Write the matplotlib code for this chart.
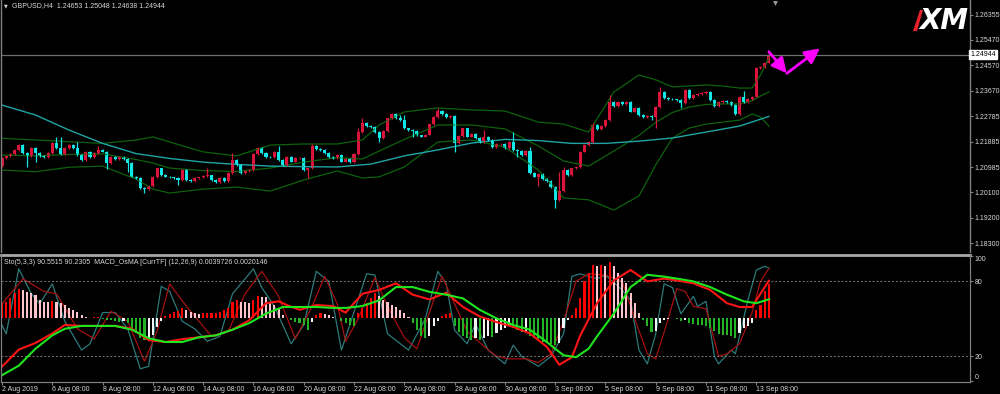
import matplotlib
matplotlib.use("Agg")
import matplotlib.pyplot as plt
import numpy as np
from matplotlib.patches import Polygon

plt.rcParams['font.family'] = ['Liberation Sans', 'DejaVu Sans']

# ---------------- data (GBPUSD H4, 2 Aug 08:00 .. 13 Sep 20:00) ----------------
first_open = 1.2102
closes = [
    1.2131, 1.2136, 1.2145, 1.2159, 1.2176, 1.2148, 1.2136, 1.2166, 1.2148, 1.2138,
    1.2134, 1.2148, 1.2182, 1.2166, 1.2145, 1.2166, 1.2176, 1.2166, 1.2141, 1.2124,
    1.2152, 1.2135, 1.2149, 1.2159, 1.2153, 1.2113, 1.2135, 1.2127, 1.2135, 1.2128,
    1.2112, 1.2065, 1.2059, 1.2025, 1.2021, 1.2033, 1.2064, 1.2094, 1.2071, 1.2065,
    1.2062, 1.2059, 1.2053, 1.2088, 1.2053, 1.2050, 1.2059, 1.2062, 1.2068, 1.2069,
    1.2053, 1.2046, 1.2059, 1.2050, 1.2077, 1.2124, 1.2106, 1.2078, 1.2085, 1.2088,
    1.2144, 1.2167, 1.2147, 1.2135, 1.2134, 1.2153, 1.2124, 1.2106, 1.2135, 1.2118,
    1.2130, 1.2132, 1.2088, 1.2094, 1.2174, 1.2162, 1.2159, 1.2147, 1.2135, 1.2130,
    1.2141, 1.2118, 1.2127, 1.2115, 1.2144, 1.2223, 1.2253, 1.2244, 1.2240, 1.2223,
    1.2200, 1.2226, 1.2270, 1.2285, 1.2270, 1.2264, 1.2235, 1.2229, 1.2226, 1.2210,
    1.2206, 1.2213, 1.2249, 1.2276, 1.2296, 1.2285, 1.2276, 1.2280, 1.2182, 1.2209,
    1.2235, 1.2206, 1.2214, 1.2200, 1.2188, 1.2206, 1.2194, 1.2170, 1.2179, 1.2180,
    1.2165, 1.2188, 1.2159, 1.2155, 1.2141, 1.2155, 1.2077, 1.2065, 1.2073, 1.2057,
    1.2050, 1.2029, 1.1983, 1.2014, 1.2088, 1.2071, 1.2094, 1.2099, 1.2153, 1.2176,
    1.2188, 1.2247, 1.2232, 1.2243, 1.2264, 1.2329, 1.2314, 1.2329, 1.2320, 1.2329,
    1.2294, 1.2306, 1.2282, 1.2276, 1.2280, 1.2275, 1.2311, 1.2362, 1.2343, 1.2338,
    1.2337, 1.2335, 1.2323, 1.2370, 1.2341, 1.2353, 1.2355, 1.2359, 1.2364, 1.2335,
    1.2315, 1.2327, 1.2331, 1.2327, 1.2317, 1.2285, 1.2347, 1.2329, 1.2338, 1.2347,
    1.2447, 1.2452, 1.24653, 1.24944,
]
# wick lengths beyond the body, in pips
up_wick = [
    3, 3, 3, 3, 3, 3, 3, 3, 3, 3,
    3, 3, 6, 24, 38, 3, 3, 3, 22, 3,
    3, 3, 3, 14, 3, 3, 3, 3, 3, 3,
    3, 3, 3, 3, 3, 3, 3, 3, 3, 3,
    3, 3, 3, 3, 3, 3, 3, 3, 3, 27,
    3, 3, 3, 3, 3, 24, 3, 3, 3, 3,
    3, 3, 3, 3, 3, 3, 20, 3, 3, 3,
    3, 3, 3, 3, 5, 3, 3, 3, 3, 3,
    3, 3, 3, 3, 3, 13, 18, 3, 3, 3,
    3, 3, 3, 3, 3, 12, 18, 3, 3, 3,
    3, 3, 3, 3, 12, 3, 3, 3, 3, 3,
    3, 3, 3, 3, 3, 24, 3, 3, 3, 3,
    3, 3, 35, 3, 3, 3, 15, 3, 3, 3,
    3, 3, 3, 66, 12, 3, 3, 3, 3, 3,
    3, 6, 3, 3, 3, 24, 3, 3, 3, 3,
    3, 3, 3, 3, 3, 3, 3, 20, 3, 3,
    3, 3, 3, 3, 3, 3, 3, 3, 3, 3,
    3, 3, 3, 3, 3, 3, 3, 18, 3, 3,
    3, 3, 3, 10.4,
]
dn_wick = [
    3, 3, 3, 3, 3, 3, 38, 3, 30, 3,
    3, 3, 3, 3, 3, 3, 3, 3, 3, 3,
    3, 3, 3, 3, 3, 22, 3, 3, 3, 3,
    30, 3, 3, 3, 13, 3, 3, 3, 3, 3,
    3, 3, 18, 3, 3, 3, 3, 3, 3, 3,
    3, 3, 3, 3, 3, 3, 3, 3, 3, 3,
    3, 3, 3, 3, 3, 3, 3, 3, 3, 3,
    3, 3, 3, 29, 3, 3, 3, 3, 3, 3,
    3, 3, 3, 3, 3, 3, 3, 3, 3, 3,
    12, 3, 3, 3, 3, 3, 3, 3, 20, 3,
    3, 3, 3, 3, 3, 3, 3, 3, 32, 3,
    3, 3, 3, 3, 3, 3, 3, 3, 3, 3,
    3, 3, 3, 20, 3, 3, 3, 3, 32, 3,
    3, 3, 29, 3, 3, 3, 3, 3, 3, 3,
    3, 3, 3, 3, 3, 3, 3, 3, 3, 3,
    3, 3, 3, 3, 3, 11, 40, 3, 3, 3,
    3, 3, 18, 3, 3, 3, 3, 3, 3, 3,
    3, 3, 3, 3, 3, 3, 3, 3, 3, 3,
    3, 3, 3, 1.5,
]

# moving average (cyan) read at sample bars
ma_bars = [0, 8, 16, 24, 32, 40, 48, 56, 64, 72, 80, 88, 96, 104, 112, 120, 128, 136, 144, 152, 160, 168, 176, 183]
ma_vals = [1.2317, 1.2282, 1.2229, 1.2182, 1.2146, 1.2129, 1.2116, 1.2108, 1.2102, 1.2100, 1.2099, 1.2109,
           1.2138, 1.2159, 1.2183, 1.2196, 1.2192, 1.2182, 1.2182, 1.2190, 1.2201, 1.2222, 1.2243, 1.2277]

# Bollinger bands (dark green)
bb_bars = [0, 8, 16, 24, 32, 36, 40, 48, 56, 64, 72, 80, 86, 90, 96, 104, 112, 120, 128, 134, 140, 146,
           152, 156, 160, 164, 168, 172, 176, 179, 181, 183]
bb_upper = [1.2200, 1.2194, 1.2188, 1.2182, 1.2194, 1.2205, 1.2187, 1.2152, 1.2138, 1.2176, 1.2180, 1.2180,
            1.2194, 1.2247, 1.2293, 1.2307, 1.2300, 1.2296, 1.2257, 1.2250, 1.2222, 1.2363,
            1.2423, 1.2406, 1.2381, 1.2384, 1.2388, 1.2384, 1.2377, 1.2377, 1.2423, 1.2483]
bb_middle = [1.2141, 1.2138, 1.2143, 1.2145, 1.2125, 1.2113, 1.2095, 1.2086, 1.2083, 1.2095, 1.2116, 1.2132,
             1.2127, 1.2155, 1.2196, 1.2247, 1.2247, 1.2233, 1.2173, 1.2120, 1.2102, 1.2155,
             1.2210, 1.2256, 1.2291, 1.2310, 1.2319, 1.2321, 1.2321, 1.2332, 1.2349, 1.2363]
bb_lower = [1.2088, 1.2082, 1.2098, 1.2102, 1.2056, 1.2021, 1.2007, 1.2021, 1.2028, 1.2014, 1.2053, 1.2085,
            1.2060, 1.2064, 1.2099, 1.2187, 1.2194, 1.2169, 1.2088, 1.1990, 1.1983, 1.1947,
            1.1997, 1.2106, 1.2201, 1.2236, 1.2250, 1.2257, 1.2264, 1.2286, 1.2275, 1.2243]

price_ticks = [1.26355, 1.25470, 1.24570, 1.23670, 1.22785, 1.21885, 1.20985, 1.20100, 1.19200, 1.18300]

# Stochastic (5,3,3): %K teal, %D dark red, turning points
k_bars = [0, 1, 4, 7, 9, 12, 15, 19, 21, 24, 27, 30, 33, 35, 38, 40, 43, 46, 49, 52, 55, 60, 62, 65, 69, 72,
          75, 78, 81, 87, 89, 92, 97, 101, 104, 106, 108, 111, 113, 116, 120, 122, 124, 128, 131, 134, 136,
          138, 142, 144, 148, 150, 152, 154, 156, 158, 160, 162, 165, 166, 168, 170, 171, 174, 175, 178, 180,
          182, 183]
k_vals = [45, 38, 90, 70, 62, 78, 48, 25, 30, 55, 55, 42, 10, 12, 76, 72, 48, 42, 32, 36, 70, 90, 75, 60, 30, 45,
          88, 80, 25, 86, 85, 38, 25, 50, 88, 78, 41, 30, 46, 25, 14, 29, 20, 12, 20, 38, 84,
          86, 82, 85, 73, 65, 25, 14, 38, 78, 75, 54, 68, 60, 64, 20, 14, 25, 22, 65, 89,
          92, 90.55]
d_bars = [0, 2, 5, 10, 13, 18, 22, 26, 30, 34, 37, 40, 44, 50, 54, 58, 62, 66, 70, 74, 77, 80, 82, 85, 89, 92,
          96, 99, 102, 105, 108, 111, 115, 118, 121, 125, 128, 131, 134, 137, 140, 144, 148, 151, 154, 156, 159,
          161, 163, 165, 168, 171, 173, 176, 179, 181, 183]
d_vals = [62, 70, 82, 72, 70, 42, 34, 56, 48, 16, 40, 78, 60, 36, 40, 70, 88, 68, 34, 60, 84, 62, 32, 50, 83, 60,
          35, 26, 55, 84, 62, 40, 28, 20, 18, 18, 15, 22, 48, 80, 86, 85, 80, 50, 22, 18, 50,
          74, 72, 60, 58, 20, 22, 30, 55, 80, 90.23]

# MACD_OsMA (12,26,9), in pips
macd_bars = [0, 4, 8, 12, 15, 19, 23, 27, 31, 35, 39, 43, 47, 51, 55, 59, 63, 66, 68, 71, 75, 79, 82, 86, 90,
             94, 98, 102, 106, 110, 114, 118, 122, 126, 130, 133, 136, 138, 142, 146, 150, 154, 158, 161, 165,
             169, 173, 176, 179, 181, 183]
macd_main = [-51, -33, -26, -16, -7, -8, -8, -8, -11, -23, -25, -22, -20, -18, -12, -2, 16, 18, 14, 9, 14, 13, 6,
             26, 30, 37, 25, 20, 27, 12, 2, -4, -9, -16, -30, -49, -41, -18, 16, 40, 51, 39, 42, 40, 37,
             30, 16, 12, 12, 26, 39.73]
sig_bars = [0, 4, 8, 12, 15, 19, 23, 27, 31, 35, 39, 43, 47, 51, 55, 59, 63, 67, 71, 75, 79, 82, 86, 90, 94,
            98, 102, 106, 110, 114, 118, 122, 126, 130, 134, 137, 140, 142, 146, 150, 154, 158, 161, 165, 169,
            173, 177, 180, 183]
sig_vals = [-60, -50, -32, -18, -11, -8, -8, -8, -12, -21, -25, -25, -20, -18, -12, -5, 5, 12, 12, 12, 11, 11, 13,
            19, 33, 33, 28, 25, 21, 9, 0, -7, -12, -25, -39, -41, -32, -19, 5, 33, 46, 44, 42, 39, 33,
            25, 18, 16, 20.15]
osma = [
    16, 17.7, 21, 26.5, 30.7, 30, 28.3, 26.5, 24.7, 19.4,
    17.7, 17.5, 18.8, 17.7, 15.9, 14.1, 10.6, 8.8, 7.1, 3.5,
    1.8, 0.8, 1.0, 1.2, -1.1, -1.6, -2.1, -3.2, -3.7, -3.2,
    -5.3, -10.6, -15.9, -21.2, -23.3, -23.0, -18, -9.5, -3.2, 2.1,
    4.2, 6.4, 8.0, 10.6, 8.5, 7.1, 5.3, 5.0, 5.3, 5.8,
    5.9, 6.0, 6.9, 8.5, 10.6, 17, 19, 17.7, 17.5, 15.9,
    19, 23.3, 23, 22.8, 17.7, 14.1, 10.6, 3.5, 0.5, -2.1,
    -3.5, -5.3, -7.1, -12.7, -3.5, 3.5, 5.3, 5.1, 3.5, 1.8,
    0.8, -3.2, -5.3, -7.4, -8.5, 5.3, 10.6, 15.9, 21.2, 26.5,
    23.3, 19, 17, 13.8, 11.7, 8.5, 5.3, 1.1, -5.3, -12.7,
    -19, -21.2, -19, -8.5, -3.2, 2.1, 4.2, 5.3, -8.5, -14.8,
    -19, -21.2, -23.3, -21.2, -23.3, -21.2, -19, -19.5, -15.9, -12.7,
    -10.6, -8.5, -10.6, -12.7, -14.8, -14, -19, -21.2, -23.3, -25.4,
    -26.5, -27.6, -28.6, -26.5, -10.6, -2.1, 3.2, 10.6, 21.2, 39.2,
    47.7, 56.2, 55.1, 56.0, 55.1, 59.4, 55.1, 47.7, 42.4, 37.1,
    26.5, 15.9, 5.3, -2.1, -8.5, -14.8, -13.8, -5.3, -2.1, -1.1,
    0.5, -0.5, -3.2, -2.1, -5.3, -6.4, -7.1, -7.4, -7.6, -10.6,
    -13.8, -17, -17.2, -17.4, -19, -21.2, -15.9, -10.6, -8.5, -5.3,
    8.5, 13.8, 28.6, 36,
]

date_labels = ["2 Aug 2019", "6 Aug 08:00", "8 Aug 08:00", "12 Aug 08:00", "14 Aug 08:00", "16 Aug 08:00",
               "20 Aug 08:00", "22 Aug 08:00", "26 Aug 08:00", "28 Aug 08:00", "30 Aug 08:00", "3 Sep 08:00",
               "5 Sep 08:00", "9 Sep 08:00", "11 Sep 08:00", "13 Sep 08:00"]

# magenta forecast arrows (bar, price)
arrow_pts = [(183, 1.2505), (187.3, 1.2429), (195.2, 1.2517)]

# ---------------- styles ----------------
BG = 'black'
UP = '#dc143c'
DN = '#12e6e6'
GRID = '#808080'
TXT = '#d8d8d8'
FS = 5.0

fig = plt.figure(figsize=(10, 3.94), dpi=100, facecolor=BG)
ax = fig.add_axes([0.001, 142 / 394, 0.969, 252 / 394], facecolor=BG)
ax2 = fig.add_axes([0.001, 12.3 / 394, 0.969, 127 / 394], facecolor=BG, sharex=ax)
ax3 = ax2.twinx()

n = len(closes)
idx = np.arange(n)
c = np.array(closes)
o = np.concatenate([[first_open], c[:-1]])
hi = np.maximum(o, c) + np.array(up_wick) * 0.0001
lo = np.minimum(o, c) - np.array(dn_wick) * 0.0001
cols = np.where(c >= o, UP, DN)

# ---- main chart ----
ax.plot(bb_bars, bb_upper, color='#0d620d', lw=0.9)
ax.plot(bb_bars, bb_middle, color='#0d620d', lw=0.9)
ax.plot(bb_bars, bb_lower, color='#0d620d', lw=0.9)
ax.plot(ma_bars, ma_vals, color='#1fa5a5', lw=1.0)
ax.vlines(idx, lo, hi, colors=cols, lw=0.9)
ax.bar(idx, np.maximum(np.abs(c - o), 0.00009), bottom=np.minimum(o, c), width=0.72, color=cols, lw=0)
ax.axhline(closes[-1], color='#6c6c74', lw=0.9)

for (x0, y0), (x1, y1) in zip(arrow_pts[:-1], arrow_pts[1:]):
    ax.annotate('', xy=(x1, y1), xytext=(x0, y0),
                arrowprops=dict(arrowstyle='-|>,head_length=0.9,head_width=0.45', color='#ff00ff',
                                lw=2.0, mutation_scale=10, shrinkA=0, shrinkB=0))

# chart shift marker at the top
ax.plot([184.5], [0.988], marker='v', ms=3.5, color='#9a9a9a', mec='none',
        transform=ax.get_xaxis_transform(), clip_on=False)

ax.set_xlim(-0.24, 231.0)
ax.set_ylim(1.17993, 1.26873)
ax.yaxis.tick_right()
ax.set_yticks(price_ticks)
ax.set_yticklabels(['%.5f' % p for p in price_ticks])
ax.tick_params(axis='y', length=2.5, width=0.8, pad=0.8, labelsize=FS, colors=GRID, labelcolor=TXT)
ax.tick_params(axis='x', bottom=False, labelbottom=False)
for s in ['top', 'bottom']:
    ax.spines[s].set_visible(False)
for s in ['left', 'right']:
    ax.spines[s].set_color(GRID)
    ax.spines[s].set_linewidth(1)
ax.text(1.0005, closes[-1], '%.5f' % closes[-1], transform=ax.get_yaxis_transform(), fontsize=FS,
        color='black', va='center', ha='left', clip_on=False,
        bbox=dict(boxstyle='square,pad=0.15', facecolor='white', edgecolor='white'))

# ---- lower panel ----
ax2.plot(k_bars, k_vals, color='#2c7a7a', lw=0.9)
ax2.plot(d_bars, d_vals, color='#a51010', lw=0.9)
for lvl in (80, 20):
    ax2.axhline(lvl, color='#7a7a7a', lw=0.7, ls=(0, (2, 2)))
ax2.set_ylim(-0.3, 101.3)
ax2.yaxis.tick_right()
ax2.set_yticks([100, 80, 20, 0])
ax2.set_yticklabels(['100', '80', '20', '0'])
ax2.tick_params(axis='y', length=2.5, width=0.8, pad=0.8, labelsize=FS, colors=GRID, labelcolor=TXT)
tl = ax2.get_yticklabels()
tl[0].set_va('top')
tl[-1].set_va('bottom')

osma_cols = []
for k, v in enumerate(osma):
    prev = osma[k - 1] if k > 0 else v
    if v >= 0:
        osma_cols.append('#ff0000' if v >= prev else '#ffc4cc')
    else:
        osma_cols.append('#22b422' if v <= prev else '#f4f4f4')
ax3.bar(idx, osma, width=0.5, color=osma_cols, lw=0)
ax3.plot(macd_bars, macd_main, color='#ff1414', lw=1.5)
ax3.plot(sig_bars, sig_vals, color='#1ee61e', lw=1.5)
ax3.set_ylim(-66.9, 67.2)
ax3.set_yticks([])
for a in (ax2, ax3):
    for s in a.spines.values():
        s.set_color(GRID)
ax2.spines['top'].set_color('#a8a8a8')
ax2.spines['top'].set_linewidth(2)
ax3.spines['top'].set_visible(False)

tick_bars = list(range(0, n, 12))
ax2.set_xticks(tick_bars)
ax2.set_xticklabels(date_labels, ha='left')
ax2.tick_params(axis='x', length=2.5, width=0.8, pad=0.8, labelsize=FS, colors=GRID, labelcolor=TXT)
ax2.set_xlim(-0.24, 231.0)

# ---- header texts ----
fig.text(0.004, 1 - 6 / 394, '\u25bc', fontsize=3.5, color=TXT, va='center', family='DejaVu Sans')
fig.text(0.012, 1 - 6 / 394, 'GBPUSD,H4  %.5f %.5f %.5f %.5f' % (o[-1], hi[-1], lo[-1], closes[-1]),
         fontsize=FS, color=TXT, va='center')
fig.text(0.004, 1 - 262 / 394,
         'Sto(5,3,3) 90.5515 90.2305  MACD_OsMA [CurrTF] (12,26,9) 0.0039726 0.0020146',
         fontsize=FS, color=TXT, va='center')

# XM logo
fig.patches.append(Polygon([(913 / 1000, 1 - 31 / 394), (920 / 1000, 1 - 10 / 394),
                            (923 / 1000, 1 - 10 / 394), (917 / 1000, 1 - 31 / 394)],
                           closed=True, transform=fig.transFigure, facecolor='#e8202a', edgecolor='none'))
fig.text(0.919, 1 - 21 / 394, 'XM', fontsize=20, fontweight='heavy', style='italic', color='white',
         va='center', ha='left', family='DejaVu Sans')

fig.savefig('out.png', dpi=100, facecolor=BG)
